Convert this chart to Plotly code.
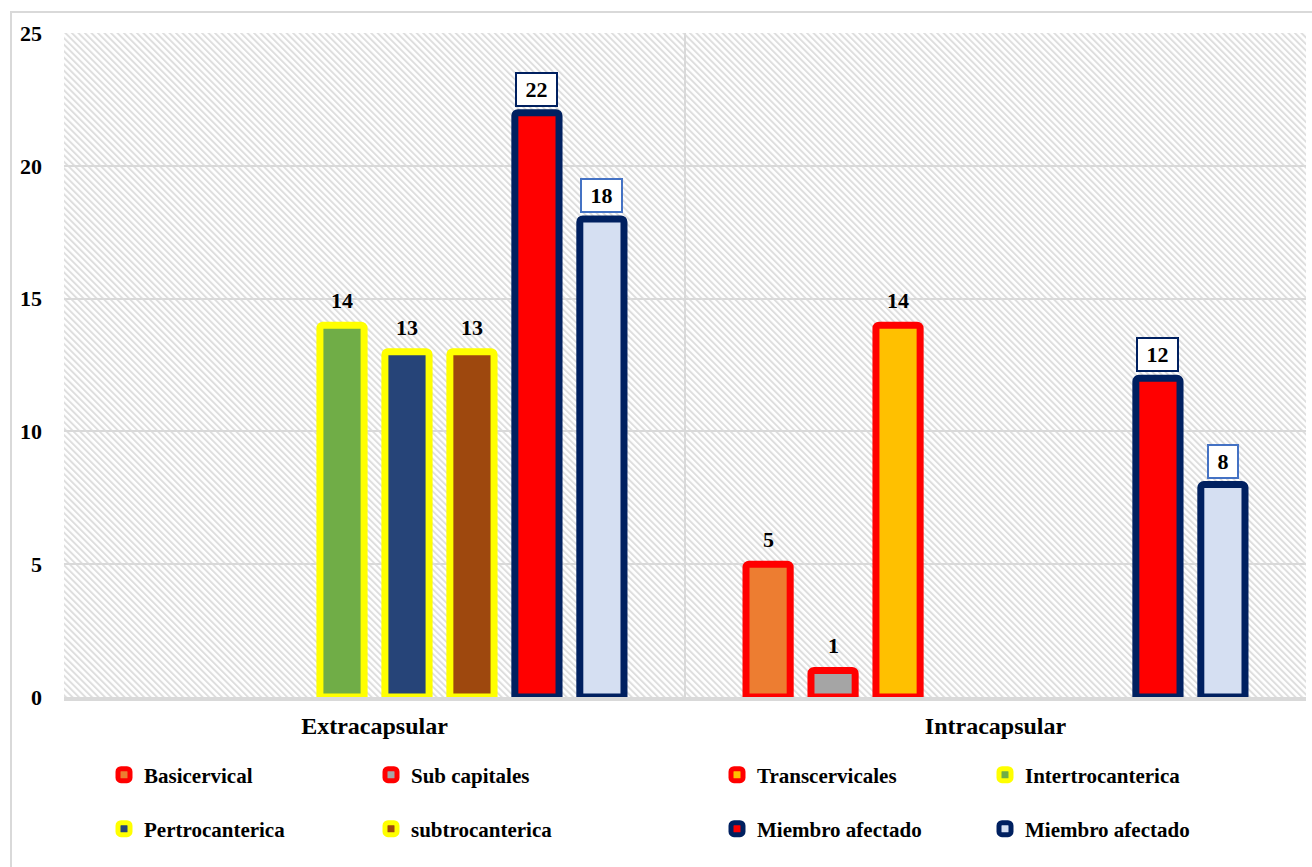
import base64
import plotly.graph_objects as go

# ---- data -------------------------------------------------------------
categories = ["Extracapsular", "Intracapsular"]
series_names = [
    "Basicervical", "Sub capitales", "Transcervicales", "Intertrocanterica",
    "Pertrocanterica", "subtrocanterica", "Miembro afectado", "Miembro afectado",
]
basicervical = [0, 5]
sub_capitales = [0, 1]
transcervicales = [0, 14]
intertrocanterica = [14, 0]
pertrocanterica = [13, 0]
subtrocanterica = [13, 0]
miembro_afectado_a = [22, 12]
miembro_afectado_b = [18, 8]
y_ticks = [0, 5, 10, 15, 20, 25]

series_values = [
    basicervical, sub_capitales, transcervicales, intertrocanterica,
    pertrocanterica, subtrocanterica, miembro_afectado_a, miembro_afectado_b,
]

# ---- styling ----------------------------------------------------------
FONT = "Liberation Serif"
fill_colors = ["#ED7D31", "#A5A5A5", "#FFC000", "#70AD47",
               "#264478", "#9E480E", "#FF0000", "#D5DFF2"]
edge_colors = ["#FF0000"] * 3 + ["#FFFF00"] * 3 + ["#002060"] * 2
label_box = [None] * 6 + ["#002060", "#4472C4"]

W, H = 1312, 867
ML, MR, MT, MB = 64, 6, 33, 170
plot_w = W - ML - MR
plot_h = H - MT - MB
BARGAP, BARGROUPGAP = 0.163, 0.32
n_series = len(series_values)
slot_px = plot_w / len(categories) * (1 - BARGAP) / n_series

# legend entry placement (text start x, row centre y) in pixels
legend_text_x = [144, 411, 757, 1025]
legend_row_y = [775, 829]


def px_to_paper_x(px):
    return (px - ML) / plot_w


def px_to_paper_y(py):
    return (H - MB - py) / plot_h


fig = go.Figure()

for i, (name, vals) in enumerate(zip(series_names, series_values)):
    legend_id = "legend" if i == 0 else f"legend{i + 1}"
    fig.add_trace(go.Bar(
        name=name,
        x=categories,
        # empty categories get no bar (and so no outline)
        y=[v if v else None for v in vals],
        marker=dict(color=fill_colors[i],
                    line=dict(color=edge_colors[i], width=7),
                    cornerradius=3),
        legend=legend_id,
        hoverinfo="x+y+name",
    ))
    # value labels
    for cat, v in zip(categories, vals):
        if v == 0:
            continue
        xshift = (i - (n_series - 1) / 2) * slot_px
        if label_box[i]:
            fig.add_annotation(
                x=cat, y=v, xref="x", yref="y", xshift=xshift, yshift=6,
                text=f"\u00a0{v}\u00a0", showarrow=False, yanchor="bottom",
                font=dict(family=FONT, size=22, color="black", weight="bold"),
                bgcolor="white", bordercolor=label_box[i], borderwidth=2,
                borderpad=3,
            )
        else:
            fig.add_annotation(
                x=cat, y=v, xref="x", yref="y", xshift=xshift, yshift=10,
                text=str(v), showarrow=False, yanchor="bottom",
                font=dict(family=FONT, size=22, color="black", weight="bold"),
            )

# one legend per entry so the columns can sit at their own offsets
legend_font = dict(family=FONT, size=21, color="black", weight="bold")
legends = {}
for i in range(n_series):
    key = "legend" if i == 0 else f"legend{i + 1}"
    col, row = i % 4, i // 4
    legends[key] = dict(
        x=px_to_paper_x(legend_text_x[col] - 40),
        y=px_to_paper_y(legend_row_y[row]),
        xanchor="left", yanchor="middle",
        orientation="h", bgcolor="rgba(0,0,0,0)",
        font=legend_font, itemclick=False, itemdoubleclick=False,
    )

# diagonal hatch used as plot-area background
hatch_svg = f"""<svg xmlns='http://www.w3.org/2000/svg' width='{plot_w}' height='{plot_h}'>
<defs><pattern id='p' width='4.6' height='10' patternUnits='userSpaceOnUse' patternTransform='rotate(-45)'>
<rect width='2.0' height='10' fill='#DEDEDE'/></pattern></defs>
<rect width='100%' height='100%' fill='white'/>
<rect width='100%' height='100%' fill='url(#p)'/></svg>"""
hatch_uri = "data:image/svg+xml;base64," + base64.b64encode(hatch_svg.encode()).decode()

fig.update_layout(
    width=W, height=H,
    margin=dict(l=ML, r=MR, t=MT, b=MB, pad=0),
    paper_bgcolor="white",
    plot_bgcolor="rgba(0,0,0,0)",
    barmode="group",
    bargap=BARGAP,
    bargroupgap=BARGROUPGAP,
    font=dict(family=FONT, size=21, color="black"),
    images=[dict(source=hatch_uri, xref="paper", yref="paper", x=0, y=1,
                 sizex=1, sizey=1, xanchor="left", yanchor="top",
                 sizing="stretch", layer="below")],
    shapes=[dict(type="rect", xref="paper", yref="paper",
                 x0=px_to_paper_x(11), x1=px_to_paper_x(W + 20),
                 y0=px_to_paper_y(H + 20), y1=px_to_paper_y(12),
                 line=dict(color="#D9D9D9", width=2), fillcolor="rgba(0,0,0,0)",
                 layer="below")],
    xaxis=dict(
        type="category",
        showgrid=True, gridcolor="#D9D9D9", gridwidth=1.5,
        tickson="boundaries", ticks="", ticklabelstandoff=4,
        showline=True, linecolor="#D9D9D9", linewidth=4,
        tickfont=dict(family=FONT, size=24, color="black", weight="bold"),
        fixedrange=True,
    ),
    yaxis=dict(
        range=[0, 25], tickvals=y_ticks, ticktext=[str(t) for t in y_ticks],
        showgrid=True, gridcolor="#D9D9D9", gridwidth=1.5,
        zeroline=False, showline=False, ticks="", ticklabelstandoff=21,
        tickfont=dict(family=FONT, size=22, color="black", weight="bold"),
        fixedrange=True,
    ),
    showlegend=True,
    **legends,
)

fig.write_html("out.html")
